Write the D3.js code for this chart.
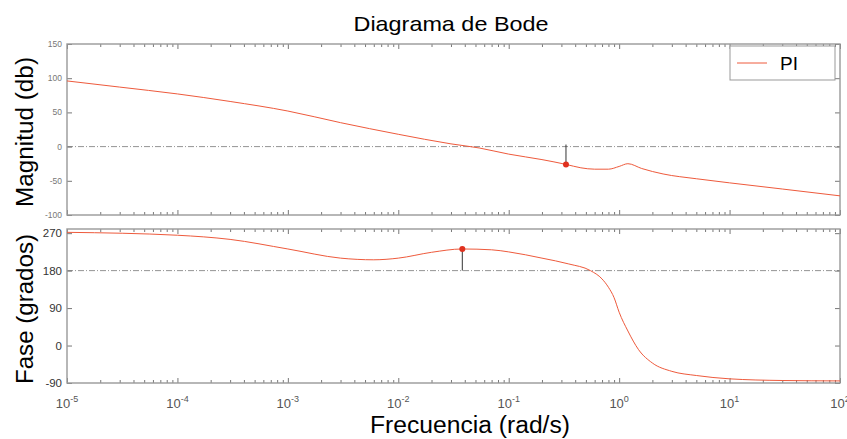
<!DOCTYPE html>
<html>
<head>
<meta charset="utf-8">
<script src="https://cdn.jsdelivr.net/npm/d3@7"></script>
<style>
  body { margin: 0; background: #fff; }
  svg { font-family: "Liberation Sans", Arial, sans-serif; }
</style>
</head>
<body>
<div id="chart"></div>
<script>
// Magnitude response (rad/s, dB)
const magFreq = [1e-5, 3e-5, 1e-4, 3e-4, 1e-3, 3e-3, 1e-2, 3e-2, 5.4e-2, 1e-1, 0.2, 0.33, 0.45, 0.6, 0.8, 1.0, 1.2, 1.6, 2.5, 5, 10, 30, 100];
const magDb   = [96, 87, 77, 66, 52, 35, 18, 4, -2, -11, -19, -26, -31, -33, -33, -29, -25, -32, -40, -47, -53, -62, -72];

// Phase response (rad/s, degrees)
const phaseFreq = [1e-5, 1e-4, 3e-4, 1e-3, 3e-3, 6e-3, 1e-2, 2e-2, 3.8e-2, 7e-2, 0.1, 0.2, 0.35, 0.55, 0.7, 0.8, 0.9, 1.0, 1.2, 1.5, 2, 3, 5, 10, 30, 100];
const phaseDeg  = [272, 265, 255, 232, 210, 206, 210, 224, 232, 230, 225, 210, 196, 180, 160, 140, 115, 80, 35, -10, -42, -62, -72, -80, -84, -85];

// Margin markers
const gainMargin  = { freq: 0.33, value: -26, ref: 3 };
const phaseMargin = { freq: 0.038, value: 232, ref: 180 };

// Axis ticks
const decades    = [1e-5, 1e-4, 1e-3, 1e-2, 1e-1, 1e0, 1e1, 1e2];
const magTicks   = [150, 100, 50, 0, -50, -100];
const phaseTicks = [270, 180, 90, 0, -90];

const W = 847, H = 439;
const left = 67, right = 840;
const magTop = 44, magBottom = 215;
const phTop = 229, phBottom = 383;
const lineColor = "#ee5a3c";
const frameColor = "#999";

const svg = d3.select("#chart").append("svg")
    .attr("width", W)
    .attr("height", H);

const x = d3.scaleLog().domain([1e-5, 1e2]).range([left, right]);
const yMag = d3.scaleLinear().domain([-100, 150]).range([magBottom, magTop]);
const yPh = d3.scaleLinear().domain([-90, 280]).range([phBottom, phTop]);

// minor log ticks (2..9 of each decade)
const minor = [];
decades.slice(0, -1).forEach(d => {
    for (let k = 2; k <= 9; k++) minor.push(d * k);
});

function panel(y, top, bottom, ticks, refValue, fontSize, labelColor) {
    const g = svg.append("g");

    // reference dash-dot line
    g.append("line")
        .attr("x1", left).attr("x2", right)
        .attr("y1", y(refValue)).attr("y2", y(refValue))
        .attr("stroke", "#777")
        .attr("stroke-width", 0.8)
        .attr("stroke-dasharray", "6,2,1,2");

    // x ticks top and bottom, pointing inward
    const xTop = g.append("g").attr("transform", `translate(0,${top})`)
        .call(d3.axisBottom(x).tickValues(decades).tickSize(5).tickFormat(""));
    const xTopMinor = g.append("g").attr("transform", `translate(0,${top})`)
        .call(d3.axisBottom(x).tickValues(minor).tickSize(3).tickFormat(""));
    const xBot = g.append("g").attr("transform", `translate(0,${bottom})`)
        .call(d3.axisTop(x).tickValues(decades).tickSize(5).tickFormat(""));
    const xBotMinor = g.append("g").attr("transform", `translate(0,${bottom})`)
        .call(d3.axisTop(x).tickValues(minor).tickSize(3).tickFormat(""));

    // y ticks left (labelled) and right
    const yLeft = g.append("g").attr("transform", `translate(${left},0)`)
        .call(d3.axisRight(y).tickValues(ticks).tickSize(5).tickFormat(""));
    const yRight = g.append("g").attr("transform", `translate(${right},0)`)
        .call(d3.axisLeft(y).tickValues(ticks).tickSize(5).tickFormat(""));

    [xTop, xTopMinor, xBot, xBotMinor, yLeft, yRight].forEach(a => {
        a.select(".domain").remove();
        a.selectAll("line").attr("stroke", "#555").attr("stroke-width", 0.8);
    });

    g.selectAll("text.ylab")
        .data(ticks)
        .enter()
        .append("text")
        .attr("class", "ylab")
        .attr("x", left - 5)
        .attr("y", d => y(d))
        .attr("dy", "0.35em")
        .attr("text-anchor", "end")
        .attr("font-size", fontSize)
        .attr("fill", labelColor)
        .text(d => d);

    // frame
    g.append("rect")
        .attr("x", left).attr("y", top)
        .attr("width", right - left).attr("height", bottom - top)
        .attr("fill", "none")
        .attr("stroke", frameColor)
        .attr("stroke-width", 1.4);
    return g;
}

const gMag = panel(yMag, magTop, magBottom, magTicks, 0, 8.5, "#777");
const gPh = panel(yPh, phTop, phBottom, phaseTicks, 180, 11.5, "#333");

// curves
const magLine = d3.line()
    .x(d => x(d[0]))
    .y(d => yMag(d[1]))
    .curve(d3.curveMonotoneX);
gMag.append("path")
    .datum(d3.zip(magFreq, magDb))
    .attr("fill", "none")
    .attr("stroke", lineColor)
    .attr("stroke-width", 1)
    .attr("d", magLine);

const phLine = d3.line()
    .x(d => x(d[0]))
    .y(d => yPh(d[1]))
    .curve(d3.curveMonotoneX);
gPh.append("path")
    .datum(d3.zip(phaseFreq, phaseDeg))
    .attr("fill", "none")
    .attr("stroke", lineColor)
    .attr("stroke-width", 1)
    .attr("d", phLine);

// margin indicators
function marker(g, y, m) {
    g.append("line")
        .attr("x1", x(m.freq)).attr("x2", x(m.freq))
        .attr("y1", y(m.value)).attr("y2", y(m.ref))
        .attr("stroke", "#333")
        .attr("stroke-width", 1);
    g.append("circle")
        .attr("cx", x(m.freq)).attr("cy", y(m.value))
        .attr("r", 3)
        .attr("fill", "#e0301e");
}
marker(gMag, yMag, gainMargin);
marker(gPh, yPh, phaseMargin);

// x tick labels 10^n
const xl = svg.append("g");
decades.forEach(d => {
    const t = xl.append("text")
        .attr("x", x(d))
        .attr("y", 408)
        .attr("text-anchor", "middle")
        .attr("font-size", 13)
        .attr("fill", "#555");
    t.append("tspan").text("10");
    t.append("tspan")
        .attr("dy", -6)
        .attr("font-size", 9)
        .text(Math.round(Math.log10(d)));
});

// legend
const legend = svg.append("g");
legend.append("rect")
    .attr("x", 730).attr("y", 46)
    .attr("width", 105).attr("height", 34)
    .attr("fill", "#fff")
    .attr("stroke", frameColor)
    .attr("stroke-width", 1);
legend.append("line")
    .attr("x1", 737).attr("x2", 767)
    .attr("y1", 63).attr("y2", 63)
    .attr("stroke", lineColor)
    .attr("stroke-width", 1);
legend.append("text")
    .attr("x", 780).attr("y", 70)
    .attr("font-size", 19)
    .text("PI");

// titles
svg.append("text")
    .attr("x", 451).attr("y", 31)
    .attr("text-anchor", "middle")
    .attr("font-size", 21)
    .attr("textLength", 195)
    .attr("lengthAdjust", "spacingAndGlyphs")
    .text("Diagrama de Bode");

svg.append("text")
    .attr("transform", `translate(33,132) rotate(-90)`)
    .attr("text-anchor", "middle")
    .attr("font-size", 23)
    .attr("textLength", 150)
    .attr("lengthAdjust", "spacingAndGlyphs")
    .text("Magnitud (db)");

svg.append("text")
    .attr("transform", `translate(33,309) rotate(-90)`)
    .attr("text-anchor", "middle")
    .attr("font-size", 24)
    .attr("textLength", 150)
    .attr("lengthAdjust", "spacingAndGlyphs")
    .text("Fase (grados)");

svg.append("text")
    .attr("x", 470).attr("y", 433)
    .attr("text-anchor", "middle")
    .attr("font-size", 23)
    .attr("textLength", 200)
    .attr("lengthAdjust", "spacingAndGlyphs")
    .text("Frecuencia (rad/s)");
</script>
</body>
</html>
